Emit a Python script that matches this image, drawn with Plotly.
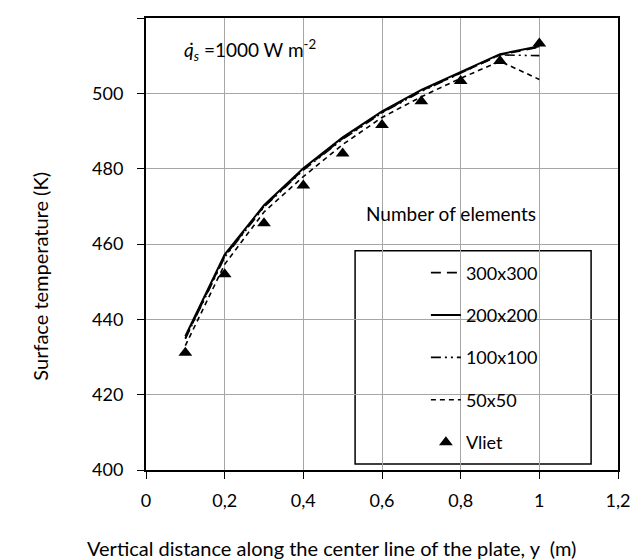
import plotly.graph_objects as go

# distance along the center line (m)
y_pos = [0.1, 0.2, 0.3, 0.4, 0.5, 0.6, 0.7, 0.8, 0.9, 1.0]

# surface temperature (K) per mesh size
t_300 = [435.0, 456.8, 470.0, 479.8, 488.0, 495.0, 500.7, 505.5, 510.2, 512.3]
t_200 = [435.5, 457.2, 470.3, 480.1, 488.3, 495.2, 500.9, 505.7, 510.4, 512.5]
t_100 = [434.8, 456.5, 469.8, 479.6, 487.8, 494.8, 500.5, 505.3, 510.2, 510.0]
t_50 = [433.0, 454.6, 468.5, 477.9, 486.4, 493.6, 499.1, 504.0, 508.5, 503.7]
t_vliet = [431.1, 452.0, 465.5, 475.5, 484.0, 491.6, 497.9, 503.3, 508.6, 513.2]

FONT = "Lato"

fig = go.Figure()
fig.add_trace(go.Scatter(x=y_pos, y=t_300, mode='lines', name='300x300', legendgroup='a',
                         line=dict(color='black', width=1.8, dash='10px,6px')))
fig.add_trace(go.Scatter(x=y_pos, y=t_200, mode='lines', name='200x200', legendgroup='b',
                         line=dict(color='black', width=2)))
fig.add_trace(go.Scatter(x=y_pos, y=t_100, mode='lines', name='100x100', legendgroup='c',
                         line=dict(color='black', width=1.6, dash='10px,4px,2px,4px,2px,4px')))
fig.add_trace(go.Scatter(x=y_pos, y=t_50, mode='lines', name='50x50', legendgroup='d',
                         line=dict(color='black', width=1.6, dash='5px,4px')))
fig.add_trace(go.Scatter(x=y_pos, y=t_vliet, mode='markers', name='Vliet', legendgroup='e',
                         marker=dict(symbol='triangle-up', size=12, color='black')))

axis_style = dict(showline=True, linecolor='black', linewidth=2, mirror=True,
                  ticks='outside', ticklen=7, tickcolor='black', tickwidth=1,
                  showgrid=True, gridcolor='#a6a6a6', gridwidth=1, zeroline=False,
                  tickfont=dict(family=FONT, size=18, color='black'))

fig.update_xaxes(range=[0, 1.2], dtick=0.2, tick0=0, ticklabelstandoff=6, **axis_style)
fig.update_yaxes(range=[400, 520], dtick=20, tick0=400, ticklabelstandoff=10, **axis_style)

# legend box drawn as a rectangle, legend itself placed inside it
fig.add_shape(type='rect', xref='paper', yref='paper', x0=0.443, x1=0.943, y0=0.013, y1=0.485,
              line=dict(color='black', width=1.5), fillcolor='white', layer='below')

txt = dict(xref='paper', yref='paper', showarrow=False, xanchor='center', yanchor='middle')
fig.add_annotation(x=0.647, y=0.568, text='Number of elements',
                   font=dict(family=FONT, size=19, color='black'), **txt)
fig.add_annotation(x=0.076, y=0.93, text='<i>q̇</i><sub><i>s</i></sub> =1000 W m<sup>-2</sup>',
                   font=dict(family=FONT, size=19, color='black'),
                   **{**txt, 'xanchor': 'left'})
fig.add_annotation(x=-0.2246, y=0.43, textangle=-90, text='Surface temperature (K)',
                   font=dict(family=FONT, size=20, color='black'), **txt)
fig.add_annotation(x=0.393, y=-0.172,
                   text='Vertical distance along the center line of the plate, y  (m)',
                   font=dict(family=FONT, size=20, color='black'), **txt)

# page body adds an 8px margin, so the figure is drawn 8px smaller on each side
fig.update_layout(
    width=632, height=552,
    margin=dict(l=138, r=22, t=8, b=90),
    plot_bgcolor='white', paper_bgcolor='white',
    separators=', ',
    showlegend=True,
    legend=dict(x=0.593, y=0.477, xanchor='left', yanchor='top',
                bgcolor='rgba(0,0,0,0)', borderwidth=0, tracegroupgap=16,
                font=dict(family=FONT, size=18, color='black')),
)

fig.write_html("out.html")
